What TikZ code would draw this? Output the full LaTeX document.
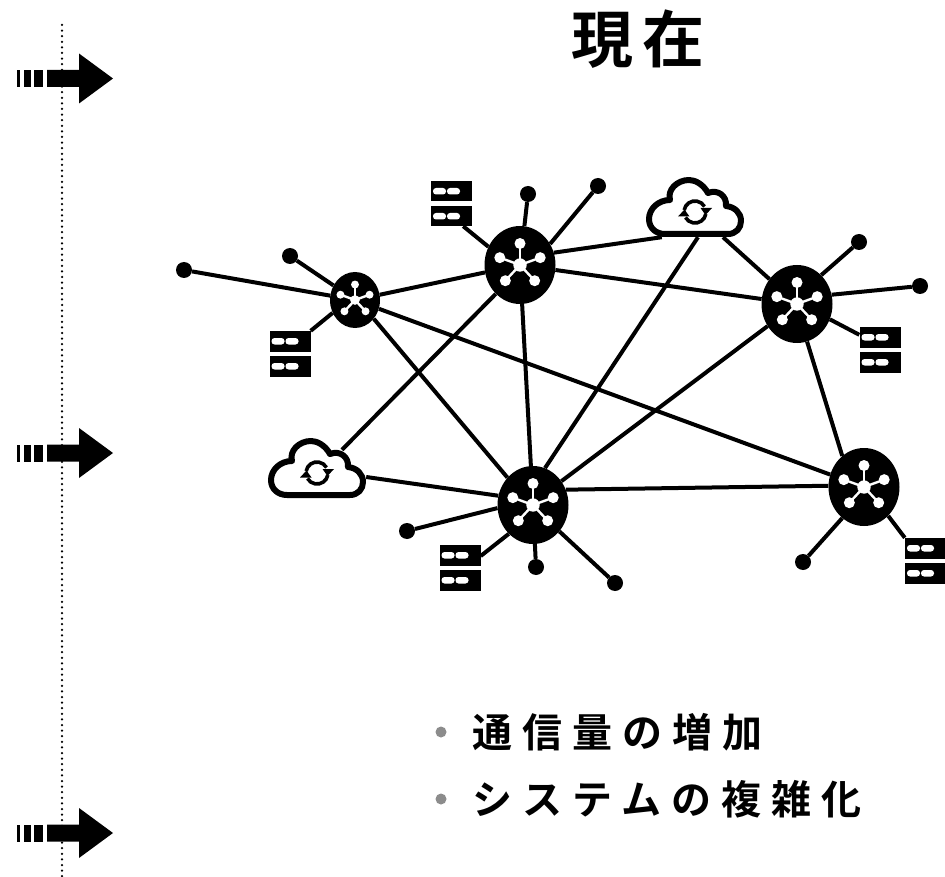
\documentclass[tikz,border=0pt]{standalone}
\usepackage{fontspec}
\usetikzlibrary{shapes.geometric}
\newfontfamily\headfont[LetterSpace=15]{Noto Sans CJK JP Bold}
\newfontfamily\bodyfont[LetterSpace=25]{Noto Sans CJK JP Bold}
\definecolor{ink}{HTML}{000000}
\definecolor{bulletgrey}{HTML}{8C8C8C}
\tikzset{
  x=1pt,y=-1pt,
  hub/.style={ellipse,fill=ink,draw=none,inner sep=0pt,minimum width=71pt,minimum height=78pt},
  smallhub/.style={ellipse,fill=ink,draw=none,inner sep=0pt,minimum width=50pt,minimum height=56pt},
  leaf/.style={circle,fill=ink,draw=none,inner sep=0pt,minimum size=16pt},
  serverbox/.style={rectangle,draw=none,inner sep=0pt,minimum width=41pt,minimum height=45pt},
  cloudbox/.style={rectangle,draw=none,inner sep=0pt,minimum width=98pt,minimum height=60pt},
  link/.style={draw=ink,line width=4pt},
  cloudline/.style={draw=ink,line width=6pt,fill=white,line join=round},
  heading/.style={inner sep=0pt,anchor=west,font=\headfont\fontsize{62pt}{70pt}\selectfont,text=ink},
  bodytext/.style={inner sep=0pt,anchor=west,font=\bodyfont\fontsize{40pt}{46pt}\selectfont,text=ink},
  bulletdot/.style={circle,fill=bulletgrey,draw=none,inner sep=0pt,minimum size=11pt},
  pics/bigarrow/.style={code={
    \fill[ink] (-47,-8.5) rectangle (-44,8.5);
    \fill[ink] (-40,-8.5) rectangle (-33,8.5);
    \fill[ink] (-30,-8.5) rectangle (-21,8.5);
    \fill[ink] (-17,-8.5) -- (15,-8.5) -- (15,-25) -- (49,0) -- (15,25) -- (15,8.5) -- (-17,8.5) -- cycle;
  }},
  pics/server/.style={code={
    \foreach \yy in {-22.5,2.5}{
      \fill[ink] (-20.5,\yy) rectangle (20.5,\yy+20.5);
      \fill[white,rounded corners=3pt] (-18.5,\yy+7) rectangle (-5.5,\yy+13.5);
      \fill[white,rounded corners=3pt] (-4.5,\yy+7) rectangle (8.5,\yy+13.5);
    }
  }},
  pics/cloudicon/.style={code={
    \draw[cloudline] (-30,27) -- (33,27)
      .. controls (41,27) and (46,21) .. (46,14)
      .. controls (46,6) and (40,0) .. (31,-1)
      .. controls (32,-11) and (23,-18) .. (13,-14)
      .. controls (8,-23) and (0,-27) .. (-6,-27)
      .. controls (-18,-27) and (-28,-17) .. (-25,-7)
      .. controls (-37,-7) and (-46,2) .. (-46,12)
      .. controls (-46,21) and (-39,27) .. (-30,27) -- cycle;
    \begin{scope}[shift={(0,5)}]
      \draw[ink,line width=3.6pt] (170:11pt) arc[start angle=170,end angle=30,radius=11pt];
      \draw[ink,line width=3.6pt] (-10:11pt) arc[start angle=-10,end angle=-150,radius=11pt];
      \fill[ink] (5.5,-4) -- (17,-4) -- (10.5,3) -- cycle;
      \fill[ink] (-17,4.5) -- (-5.5,4.5) -- (-10.5,-2.5) -- cycle;
    \end{scope}
  }},
  pics/hubicon/.style={code={
    \foreach \aa in {90,160,20,-47,-133}{
      \draw[white,line width=2.4pt] (0pt,0pt) -- (\aa:21.5pt);
      \fill[white] (\aa:21.5pt) circle[radius=5.5pt];
    }
    \fill[white] (0pt,0pt) circle[radius=6.7pt];
  }}
}
\begin{document}
\begin{tikzpicture}
\useasboundingbox (0,0) rectangle (945,877);
\fill[white] (0,0) rectangle (945,877);
\coordinate (railtop) at (62,25);
\coordinate (railend) at (62,877);
\draw[ink,line width=2.5pt,line cap=round,dash pattern=on 0pt off 5.6pt] (railtop) -- (railend);
\pic at (64,78.5) {bigarrow};
\pic at (64,453) {bigarrow};
\pic at (64,833) {bigarrow};

\node[heading] (title) at (571,39) {現在};

% hubs
\node[smallhub] (A) at (355,300) {};
\node[hub] (B) at (520,265) {};
\node[hub] (C) at (797,304) {};
\node[hub] (D) at (533,505) {};
\node[hub] (E) at (864,487) {};
% clouds
\node[cloudbox] (cone) at (695,207) {};
\node[cloudbox] (ctwo) at (317,468) {};
% servers
\node[serverbox] (sA) at (290,353.5) {};
\node[serverbox] (sB) at (451.5,203.5) {};
\node[serverbox] (sC) at (880,349.5) {};
\node[serverbox] (sD) at (460,567.5) {};
\node[serverbox] (sE) at (925.5,560.5) {};
% leaves
\node[leaf] (la) at (184,270) {};
\node[leaf] (lb) at (290,256) {};
\node[leaf] (lc) at (528,194) {};
\node[leaf] (ld) at (598,186) {};
\node[leaf] (le) at (859,242) {};
\node[leaf] (lf) at (920,286) {};
\node[leaf] (lg) at (407,531) {};
\node[leaf] (lh) at (536,567) {};
\node[leaf] (li) at (615,583) {};
\node[leaf] (lj) at (803,562) {};

% connectors
\draw[link] (la) -- (A);
\draw[link] (lb) -- (A);
\draw[link] (sA.north east) -- (A.-150);
\draw[link] (A) -- (B);
\draw[link] (A.-45) -- (D.133);
\draw[link] (A) -- (E);
\draw[link] (lc) -- (B);
\draw[link] (ld) -- (B.35);
\draw[link] ([xshift=-9pt]sB.south east) -- (B.150);
\draw[link] ([xshift=16pt]cone.south west) -- (B.20);
\draw[link] (B) -- (C);
\draw[link] (B) -- (D);
\draw[link] (B.-130) -- ([xshift=25pt,yshift=-12pt]ctwo.north);
\draw[link] ([xshift=3pt]cone.south) -- (D.72);
\draw[link] ([xshift=28pt]cone.south) -- (C);
\draw[link] (le) -- (C.50);
\draw[link] (lf) -- (C.15);
\draw[link] (C.-25) -- ([yshift=-8pt]sC.north west);
\draw[link] (C) -- (D.40);
\draw[link] (C.-75) -- (E.125);
\draw[link] ([yshift=-9pt]ctwo.east) -- (D.165);
\draw[link] (D.25) -- (E.178);
\draw[link] (lg) -- (D.185);
\draw[link] (lh) -- (D);
\draw[link] (li) -- (D.-45);
\draw[link] ([yshift=11.5pt]sD.east) -- (D.-130);
\draw[link] (E.-50) -- (sE.north west);
\draw[link] (lj) -- (E.-125);

% icons on top
\pic[scale=.72] at (A) {hubicon};
\pic at (B) {hubicon};
\pic at (C) {hubicon};
\pic at (D) {hubicon};
\pic at (E) {hubicon};
\pic at (cone) {cloudicon};
\pic at (ctwo) {cloudicon};
\pic at (sA) {server};
\pic at (sB) {server};
\pic at (sC) {server};
\pic at (sD) {server};
\pic at (sE) {server};

% text
\node[bulletdot] (ba) at (441,732) {};
\node[bulletdot] (bb) at (441,799) {};
\node[bodytext] (ta) at (472,732.5) {通信量の増加};
\node[bodytext] (tb) at (472,799) {システムの複雑化};
\end{tikzpicture}
\end{document}
